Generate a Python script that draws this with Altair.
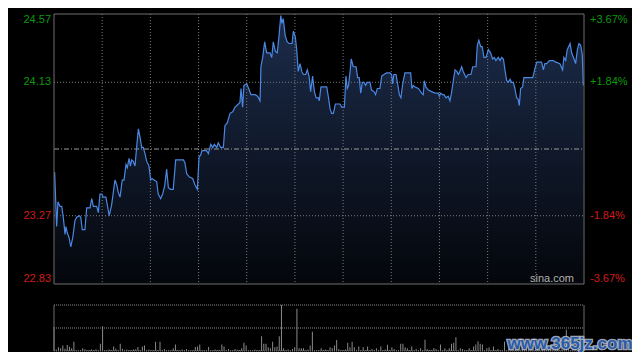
import altair as alt
import pandas as pd

# ---------------- data ----------------
minutes = [
    0.3, 1.2, 1.8, 2.7, 3.5, 4.2, 5.0, 5.4, 6.0, 6.8,
    7.6, 8.5, 9.5, 10.3, 11.5, 12.1, 12.8, 14.0, 14.8, 16.3,
    17.1, 17.8, 19.3, 20.1, 20.8, 21.6, 22.3, 23.5, 25.0, 26.1,
    27.6, 28.4, 29.1, 29.9, 30.9, 31.7, 32.6, 33.2, 34.0, 34.6,
    35.2, 35.9, 36.7, 37.1, 38.2, 38.9, 39.7, 40.4, 41.2, 42.0,
    43.0, 43.8, 44.4, 45.3, 46.5, 47.2, 48.3, 49.2, 50.1, 51.0,
    51.8, 52.8, 54.0, 55.1, 56.3, 58.6, 59.3, 60.1, 61.3, 62.8,
    63.8, 64.9, 65.7, 66.4, 67.0, 69.1, 69.9, 71.0, 71.9, 72.6,
    73.7, 74.4, 75.5, 76.7, 77.4, 78.5, 79.7, 80.9, 82.0, 83.5,
    84.2, 84.7, 85.4, 86.0, 87.3, 88.4, 89.2, 91.0, 92.2, 93.3,
    93.7, 94.5, 95.4, 96.3, 97.8, 98.6, 99.3, 100.2, 101.1, 101.9,
    102.7, 103.2, 103.8, 104.7, 105.6, 106.5, 107.8, 108.4, 109.3, 109.9,
    110.6, 111.4, 112.2, 112.9, 114.0, 114.7, 115.5, 116.2, 117.1, 117.9,
    118.7, 119.7, 120.1, 120.9, 123.5, 124.2, 125.0, 125.7, 126.5, 127.4,
    129.5, 130.3, 131.5, 132.2, 132.8, 133.4, 134.0, 134.6, 135.5, 136.8,
    137.5, 138.2, 138.9, 139.6, 140.4, 141.1, 141.9, 143.1, 143.8, 144.9,
    145.6, 146.4, 147.6, 148.4, 149.4, 150.6, 152.1, 152.9, 153.3, 153.9,
    154.9, 155.6, 156.4, 157.1, 157.9, 158.9, 161.5, 162.1, 162.7, 163.5,
    165.0, 166.5, 167.2, 167.7, 168.4, 169.5, 171.0, 172.5, 174.0, 174.5,
    175.1, 176.0, 176.6, 177.5, 178.5, 179.3, 180.1, 180.8, 181.6, 182.4,
    183.1, 183.8, 184.6, 185.3, 186.6, 187.6, 188.8, 189.6, 191.1, 191.7,
    192.4, 193.2, 193.9, 194.7, 195.6, 196.7, 197.7, 198.6, 199.4, 200.1,
    201.2, 202.0, 202.7, 203.5, 204.2, 205.0, 205.7, 206.5, 207.2, 208.0,
    208.7, 209.5, 210.2, 210.7, 211.3, 212.2, 212.8, 216.8, 217.8, 218.6,
    220.8, 221.6, 222.3, 223.1, 224.3, 226.1, 227.2, 229.1, 230.3, 230.9,
    231.7, 232.4, 233.7, 234.4, 235.5, 236.2, 237.0, 237.7, 238.5, 239.2,
    239.7,
]
prices = [
    23.55, 23.20, 23.36, 23.33, 23.33, 23.26, 23.15, 23.20, 23.16, 23.13,
    23.07, 23.13, 23.24, 23.26, 23.27, 23.26, 23.18, 23.18, 23.32, 23.32,
    23.38, 23.33, 23.33, 23.29, 23.41, 23.41, 23.39, 23.39, 23.27, 23.34,
    23.50, 23.47, 23.42, 23.39, 23.50, 23.50, 23.60, 23.58, 23.64, 23.59,
    23.63, 23.62, 23.59, 23.66, 23.83, 23.78, 23.71, 23.71, 23.67, 23.62,
    23.59, 23.50, 23.51, 23.50, 23.49, 23.41, 23.38, 23.41, 23.46, 23.57,
    23.45, 23.44, 23.44, 23.63, 23.63, 23.63, 23.61, 23.54, 23.52, 23.51,
    23.47, 23.44, 23.65, 23.66, 23.69, 23.69, 23.67, 23.73, 23.71, 23.73,
    23.71, 23.74, 23.71, 23.71, 23.85, 23.87, 23.93, 23.94, 23.97, 23.99,
    24.00, 24.09, 23.97, 24.11, 24.12, 24.08, 24.05, 24.05, 24.04, 24.01,
    24.23, 24.29, 24.39, 24.32, 24.32, 24.29, 24.39, 24.33, 24.32, 24.43,
    24.56, 24.51, 24.54, 24.43, 24.39, 24.38, 24.38, 24.46, 24.42, 24.34,
    24.20, 24.25, 24.20, 24.18, 24.18, 24.21, 24.17, 24.07, 24.17, 24.07,
    24.03, 24.03, 24.01, 24.10, 24.10, 24.04, 23.96, 23.93, 23.93, 23.99,
    23.99, 23.97, 23.97, 24.17, 24.09, 24.11, 24.19, 24.28, 24.23, 24.23,
    24.16, 24.16, 24.06, 24.13, 24.13, 24.11, 24.13, 24.13, 24.08, 24.07,
    24.05, 24.09, 24.09, 24.17, 24.18, 24.19, 24.19, 24.18, 24.12, 24.18,
    24.18, 24.12, 24.05, 24.03, 24.12, 24.19, 24.19, 24.09, 24.11, 24.10,
    24.09, 24.06, 24.05, 24.14, 24.10, 24.08, 24.07, 24.06, 24.06, 24.04,
    24.06, 24.05, 24.05, 24.03, 24.04, 24.01, 24.07, 24.14, 24.21, 24.20,
    24.18, 24.20, 24.23, 24.20, 24.16, 24.18, 24.18, 24.23, 24.23, 24.37,
    24.40, 24.36, 24.36, 24.29, 24.29, 24.34, 24.32, 24.28, 24.29, 24.27,
    24.29, 24.27, 24.29, 24.28, 24.21, 24.14, 24.13, 24.15, 24.13, 24.13,
    24.09, 24.03, 24.02, 23.98, 24.09, 24.10, 24.16, 24.16, 24.22, 24.26,
    24.26, 24.21, 24.25, 24.25, 24.27, 24.27, 24.26, 24.25, 24.21, 24.29,
    24.27, 24.34, 24.38, 24.32, 24.28, 24.25, 24.34, 24.38, 24.37, 24.31,
    24.11,
]
volumes = [
    2600, 150, 400, 300, 600, 250, 650, 450, 300, 1000,
    100, 100, 100, 300, 200, 100, 100, 150, 100, 200,
    100, 800, 2700, 100, 100, 150, 100, 500, 250, 100,
    800, 250, 100, 150, 100, 100, 150, 200, 430, 100,
    500, 600, 100, 150, 100, 100, 1000, 100, 1000, 100,
    230, 100, 100, 100, 300, 700, 100, 100, 150, 100,
    230, 100, 100, 100, 430, 500, 700, 100, 100, 100,
    430, 100, 100, 150, 100, 100, 700, 500, 100, 230,
    100, 100, 230, 100, 100, 300, 900, 600, 100, 100,
    100, 150, 100, 100, 1600, 800, 800, 400, 300, 1000,
    400, 500, 1600, 5000, 300, 100, 150, 100, 230, 400,
    4600, 300, 300, 300, 100, 150, 600, 2100, 100, 100,
    100, 300, 100, 150, 100, 400, 300, 600, 1200, 230,
    100, 100, 150, 900, 400, 1000, 400, 100, 500, 100,
    400, 100, 500, 100, 230, 100, 300, 100, 500, 100,
    150, 670, 100, 400, 230, 100, 100, 800, 800, 400,
    300, 100, 500, 100, 230, 100, 300, 100, 1230, 230,
    100, 100, 300, 230, 100, 700, 100, 300, 100, 300,
    800, 900, 1500, 100, 300, 230, 100, 100, 300, 100,
    500, 700, 1070, 800, 700, 100, 300, 400, 100, 500,
    100, 230, 100, 100, 1000, 100, 300, 100, 230, 100,
    100, 200, 600, 100, 200, 100, 300, 500, 100, 200,
    100, 300, 400, 100, 200, 100, 600, 100, 200, 100,
    300, 100, 2300, 200, 100, 300, 500, 100, 200, 800,
    100,
]
label_prices = [24.57, 24.13, 23.27, 22.83]
left_labels = ["24.57", "24.13", "23.27", "22.83"]
right_labels = ["+3.67%", "+1.84%", "-1.84%", "-3.67%"]
label_colors = ["#0b9a0b", "#0b9a0b", "#d21a1a", "#d21a1a"]
label_base = ["top", "middle", "middle", "bottom"]
hgrid_prices = [24.13, 23.27]
prev_close = [23.70]
vgrid_minutes = [240 * k / 11 for k in range(1, 11)]

P_LO, P_HI = 22.83, 24.57
W, H = 530, 337
PH = 270          # price panel height
VT, VB = 291, 337  # volume panel top / bottom

price_df = pd.DataFrame({"m": minutes, "p": prices})
vol_df = pd.DataFrame({"m": list(range(len(volumes))), "v": volumes})
lab_df = pd.DataFrame({"p": label_prices, "lt": left_labels, "rt": right_labels,
                       "c": label_colors, "b": label_base})
one = pd.DataFrame({"a": [0]})

XS = alt.Scale(domain=[0, 240], range=[0, W], nice=False, zero=False, padding=0)
PS = alt.Scale(domain=[P_LO, P_HI], range=[PH, 0], nice=False, zero=False)
VS = alt.Scale(domain=[0, 5000], range=[VB, VT], nice=False)

FONT = "Liberation Sans"
GRID = "#7a7a7a"
FRAME = "#6e6e6e"

grad = alt.Gradient(
    gradient="linear",
    stops=[alt.GradientStop(color="#1c2c4b", offset=0),
           alt.GradientStop(color="#04060b", offset=1)],
    x1=1, x2=1, y1=0, y2=1,
)

area = alt.Chart(price_df).mark_area(color=grad).encode(
    x=alt.X("m:Q", scale=XS, axis=None),
    y=alt.Y("p:Q", scale=PS, axis=None),
    y2=alt.datum(P_LO),
)
line = alt.Chart(price_df).mark_line(color="#4a88e4", strokeWidth=1.2).encode(
    x=alt.X("m:Q", scale=XS, axis=None),
    y=alt.Y("p:Q", scale=PS, axis=None),
)
hgrid = alt.Chart(pd.DataFrame({"p": hgrid_prices})).mark_rule(
    color=GRID, strokeDash=[1, 2], strokeWidth=1).encode(
    x=alt.value(0), x2=alt.value(W), y=alt.Y("p:Q", scale=PS, axis=None))
midline = alt.Chart(pd.DataFrame({"p": prev_close})).mark_rule(
    color="#9a9a9a", strokeDash=[5, 2, 1, 2], strokeWidth=1).encode(
    x=alt.value(0), x2=alt.value(W), y=alt.Y("p:Q", scale=PS, axis=None))
vgrid = alt.Chart(pd.DataFrame({"m": vgrid_minutes})).mark_rule(
    color=GRID, strokeDash=[1, 2], strokeWidth=1).encode(
    x=alt.X("m:Q", scale=XS, axis=None), y=alt.value(0), y2=alt.value(PH))

def rule(x, x2, y, y2, color=FRAME, dash=None):
    kw = dict(color=color, strokeWidth=1)
    if dash:
        kw["strokeDash"] = dash
    return alt.Chart(one).mark_rule(**kw).encode(
        x=alt.value(x), x2=alt.value(x2), y=alt.value(y), y2=alt.value(y2))

frame = [
    rule(0, W, 0, 0), rule(0, W, PH, PH),
    rule(0, 0, 0, PH), rule(W, W, 0, PH),
]

labels = []
for base in ["top", "middle", "bottom"]:
    src = alt.Chart(lab_df).transform_filter(alt.datum.b == base)
    labels.append(src.mark_text(align="right", baseline=base, font=FONT, fontSize=11).encode(
        x=alt.value(-3), y=alt.Y("p:Q", scale=PS, axis=None), text="lt:N",
        color=alt.Color("c:N", scale=None)))
    labels.append(src.mark_text(align="left", baseline=base, font=FONT, fontSize=11).encode(
        x=alt.value(W + 6), y=alt.Y("p:Q", scale=PS, axis=None), text="rt:N",
        color=alt.Color("c:N", scale=None)))

sina = alt.Chart(one).mark_text(align="right", baseline="alphabetic", font=FONT,
                                fontSize=11, color="#b0b0b0").encode(
    x=alt.value(W - 10), y=alt.value(PH - 2), text=alt.value("sina.com"))

price_group = alt.layer(area, hgrid, vgrid, midline, line, *frame, *labels, sina)

bars = alt.Chart(vol_df).mark_bar(size=1, color="#8a8a8a").encode(
    x=alt.X("m:Q", scale=XS, axis=None),
    y=alt.Y("v:Q", scale=VS, axis=None),
)
vol_frame = [
    rule(0, W, VT, VT, color="#8a8a8a", dash=[1, 1]),
    rule(0, W, (VT + VB) / 2, (VT + VB) / 2, color="#8a8a8a", dash=[1, 1]),
    rule(0, W, VB, VB, color="#6a6a6a", dash=[1, 1]),
    rule(0, 0, VT, VB), rule(W, W, VT, VB),
]
vol_group = alt.layer(bars, *vol_frame)

wm_outline = alt.Chart(one).mark_text(
    align="center", baseline="alphabetic", font=FONT, fontSize=17, fontWeight="bold",
    color="#2a5aa6", stroke="#c8d2e0", strokeWidth=2.5, strokeOpacity=0.8).encode(
    x=alt.value(516), y=alt.value(335), text=alt.value("www.365jz.com"))
wm_fill = alt.Chart(one).mark_text(
    align="center", baseline="alphabetic", font=FONT, fontSize=17, fontWeight="bold",
    color="#2a5aa6").encode(
    x=alt.value(516), y=alt.value(335), text=alt.value("www.365jz.com"))

chart = alt.layer(price_group, vol_group, wm_outline, wm_fill).resolve_scale(
    y="independent"
).properties(
    width=W, height=H,
    padding={"left": 46, "top": 6, "right": 48, "bottom": 1},
    autosize=alt.AutoSizeParams(type="none"),
).configure(background="#000000").configure_view(stroke=None)

chart.save("out.html", embed_options={"renderer": "svg", "actions": False})
